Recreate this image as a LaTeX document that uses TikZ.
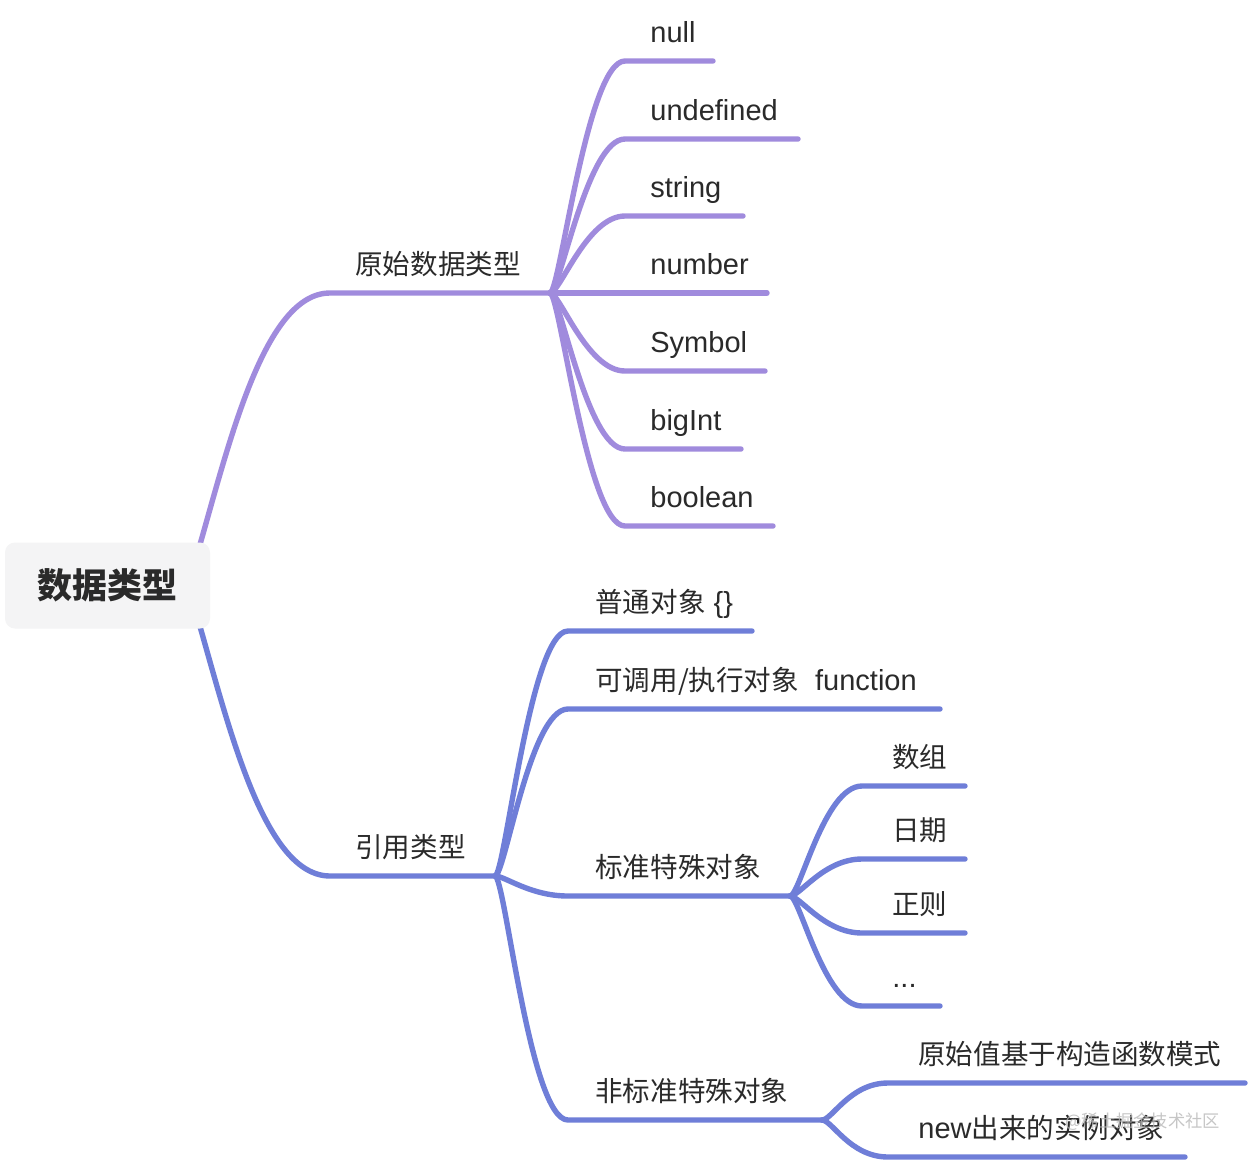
\documentclass[tikz,border=0pt]{standalone}
\usepackage{fontspec}
\setmainfont{Liberation Sans}
\newfontfamily\cjk[Scale=0.95]{Noto Sans CJK SC}
\usetikzlibrary{calc}
\definecolor{pcol}{HTML}{A08BDD}
\definecolor{bcol}{HTML}{6F7ED8}
\definecolor{txt}{HTML}{2A2A2A}
\definecolor{boxfill}{HTML}{F4F4F5}
\begin{document}
\begin{tikzpicture}[x=0.5pt,y=-0.5pt,
  pline/.style={draw=pcol,line width=2.7pt,line cap=round,line join=round},
  bline/.style={draw=bcol,line width=2.7pt,line cap=round,line join=round},
  lbl/.style={anchor=base west,inner sep=0pt,text=txt,font=\fontsize{14.5}{17}\selectfont},
  bc/.style={to path={.. controls ($(\tikztostart)+(10,0)$) and ($(\tikztotarget)+(-38,0)$) .. (\tikztotarget)}},
  rootbox/.style={fill=boxfill,rounded corners=5pt,minimum width=102.5pt,minimum height=43pt,inner sep=0pt,text=txt,font=\cjk\fontsize{18.4}{21}\selectfont\bfseries}
]
\useasboundingbox[fill=white] (0,0) rectangle (1248,1162);

% root branches
\coordinate (R1) at (199,548);
\coordinate (R2) at (199,623);
\coordinate (P1s) at (330,293);
\coordinate (J1) at (550,293);
\coordinate (B1s) at (330,876);
\coordinate (J2) at (495,876);
\draw[pline] (R1) .. controls (230,440) and (265,293) .. (P1s) -- (J1);
\draw[bline] (R2) .. controls (230,731) and (265,876) .. (B1s) -- (J2);
\node[lbl,font=\cjk\fontsize{14.5}{17}\selectfont] (prim) at (355,274) {原始数据类型};
\node[lbl,font=\cjk\fontsize{14.5}{17}\selectfont] (ref) at (355,857) {引用类型};

% primitive children
\foreach \n/\y/\e/\t in {null/61/713/null, undef/139/798/undefined, str/216/743/string, num/293/767/number, sym/371/765/Symbol, big/449/741/bigInt, bool/526/773/boolean}{
  \node[lbl] (\n) at (650,\y-19) {\t};
  \coordinate (\n-s) at (625,\y);
  \coordinate (\n-e) at (\e,\y);
  \draw[pline] (J1) to[bc] (\n-s) -- (\n-e);
}

% reference children
\coordinate (J3) at (790,896);
\coordinate (J4) at (822,1120);
\node[lbl] (obj) at (595,612) {{\cjk 普通对象} \{\}};
\coordinate (obj-s) at (568,631); \coordinate (obj-e) at (752,631);
\draw[bline] (J2) to[bc] (obj-s) -- (obj-e);
\node[lbl] (fun) at (595,690) {{\cjk 可调用/执行对象}\ \ function};
\coordinate (fun-s) at (568,709); \coordinate (fun-e) at (940,709);
\draw[bline] (J2) to[bc] (fun-s) -- (fun-e);
\node[lbl,font=\cjk\fontsize{14.5}{17}\selectfont] (std) at (595,877) {标准特殊对象};
\coordinate (std-s) at (568,896);
\draw[bline] (J2) to[bc] (std-s) -- (J3);
\node[lbl,font=\cjk\fontsize{14.5}{17}\selectfont] (nstd) at (595,1101) {非标准特殊对象};
\coordinate (nstd-s) at (568,1120);
\draw[bline] (J2) to[bc] (nstd-s) -- (J4);

% standard special objects
\foreach \n/\y/\e/\t in {arr/786/965/数组, date/859/965/日期, reg/933/965/正则}{
  \node[lbl,font=\cjk\fontsize{14.5}{17}\selectfont] (\n) at (892,\y-19) {\t};
  \coordinate (\n-s) at (862,\y);
  \coordinate (\n-e) at (\e,\y);
  \draw[bline] (J3) to[bc] (\n-s) -- (\n-e);
}
\node[lbl] (dots) at (892,987) {...};
\coordinate (dots-s) at (862,1006); \coordinate (dots-e) at (940,1006);
\draw[bline] (J3) to[bc] (dots-s) -- (dots-e);

% non-standard special objects
\node[lbl,font=\cjk\fontsize{14.5}{17}\selectfont] (prv) at (918,1064) {原始值基于构造函数模式};
\coordinate (prv-s) at (888,1083); \coordinate (prv-e) at (1245,1083);
\draw[bline] (J4) to[bc] (prv-s) -- (prv-e);
\node[lbl] (inst) at (918,1138) {new{\cjk 出来的实例对象}};
\coordinate (inst-s) at (888,1157); \coordinate (inst-e) at (1185,1157);
\draw[bline] (J4) to[bc] (inst-s) -- (inst-e);

% root
\node[rootbox] (root) at (107.5,585.5) {数据类型};

% watermark
\node[anchor=west,inner sep=0pt,text=black!28,opacity=0.8,font=\cjk\fontsize{9.1}{11}\selectfont] (wm) at (1065,1122) {@稀土掘金技术社区};
\end{tikzpicture}
\end{document}
